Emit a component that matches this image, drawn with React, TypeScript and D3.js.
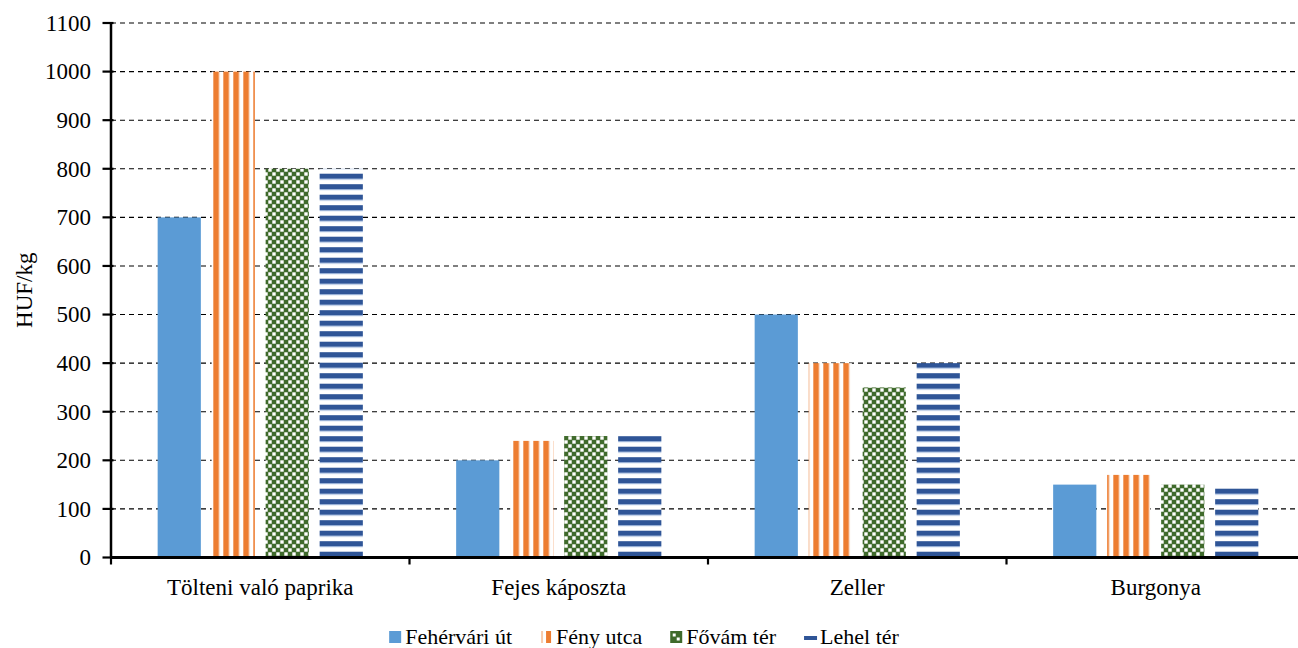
import * as d3 from 'd3';
import { useEffect, useRef } from 'react';

// categories and series
const categories = ['Tölteni való paprika', 'Fejes káposzta', 'Zeller', 'Burgonya'];
const seriesNames = ['Fehérvári út', 'Fény utca', 'Fővám tér', 'Lehel tér'];

// HUF/kg, one value per category
const fehervari = [700, 200, 500, 150];
const fenyUtca = [1000, 240, 400, 170];
const fovam = [800, 250, 350, 150];
const lehel = [800, 250, 400, 147];

const yTicks = [0, 100, 200, 300, 400, 500, 600, 700, 800, 900, 1000, 1100];

const FONT = "Liberation Serif, Times New Roman, serif";

export default function App() {
  const svgRef = useRef<SVGSVGElement>(null);

  useEffect(() => {
    const w = 1298;
    const h = 648;
    const svg = d3.select(svgRef.current);
    svg.selectAll('*').remove();
    svg.attr('width', w).attr('height', h)
      .attr('font-family', FONT);

    const left = 111;
    const right = 111 + 4 * 298.5;
    const top = 23;
    const bottom = 557.5;

    const values = [fehervari, fenyUtca, fovam, lehel];
    const data = categories.flatMap((c, i) =>
      seriesNames.map((s, j) => ({ cat: c, series: s, value: values[j][i] }))
    );

    const x0 = d3.scaleBand().domain(categories).range([left, right]).padding(0);
    const bw = x0.bandwidth();
    const x1 = d3.scaleBand().domain(seriesNames)
      .range([bw / 2 - 108, bw / 2 + 108])
      .paddingInner(0.2).paddingOuter(0.1);
    const y = d3.scaleLinear().domain([0, 1100]).range([bottom, top]);

    // patterns
    const defs = svg.append('defs');
    const pOrange = defs.append('pattern').attr('id', 'pOrange')
      .attr('patternUnits', 'userSpaceOnUse').attr('x', 3.3).attr('y', 0)
      .attr('width', 10).attr('height', 10);
    pOrange.append('rect').attr('width', 10).attr('height', 10).attr('fill', '#fff');
    pOrange.append('rect').attr('x', -0.8).attr('width', 7).attr('height', 10).attr('fill', '#f8cbad');
    pOrange.append('rect').attr('x', 0).attr('width', 5.4).attr('height', 10).attr('fill', '#ed7d31');

    const pGreen = defs.append('pattern').attr('id', 'pGreen')
      .attr('patternUnits', 'userSpaceOnUse').attr('x', 0).attr('y', 0)
      .attr('width', 8).attr('height', 8);
    pGreen.append('rect').attr('width', 8).attr('height', 8).attr('fill', '#3f6a2b');
    pGreen.append('rect').attr('x', 4.3).attr('y', 0.3).attr('width', 3.4).attr('height', 3.4).attr('fill', '#fff');
    pGreen.append('rect').attr('x', 0.3).attr('y', 4.3).attr('width', 3.4).attr('height', 3.4).attr('fill', '#fff');

    const pBlue = defs.append('pattern').attr('id', 'pBlue')
      .attr('patternUnits', 'userSpaceOnUse').attr('x', 0).attr('y', 5.7)
      .attr('width', 10).attr('height', 10.5);
    pBlue.append('rect').attr('width', 10).attr('height', 10.5).attr('fill', '#fff');
    pBlue.append('rect').attr('y', -1).attr('width', 10).attr('height', 7).attr('fill', '#b4c7e7');
    pBlue.append('rect').attr('y', 0).attr('width', 10).attr('height', 5).attr('fill', '#2f5597');

    const fills: Record<string, string> = {
      'Fehérvári út': '#5b9bd5',
      'Fény utca': 'url(#pOrange)',
      'Fővám tér': 'url(#pGreen)',
      'Lehel tér': 'url(#pBlue)',
    };

    // grid lines
    svg.append('g').selectAll('line')
      .data(yTicks.filter(t => t > 0))
      .enter().append('line')
      .attr('x1', left).attr('x2', right)
      .attr('y1', d => y(d)).attr('y2', d => y(d))
      .attr('stroke', '#000').attr('stroke-width', 1.1)
      .attr('stroke-dasharray', '5,4');

    // bars
    svg.append('g').selectAll('rect')
      .data(data)
      .enter().append('rect')
      .attr('x', d => (x0(d.cat) as number) + (x1(d.series) as number))
      .attr('y', d => y(d.value))
      .attr('width', x1.bandwidth())
      .attr('height', d => y(0) - y(d.value))
      .attr('fill', d => fills[d.series]);

    // y axis
    const yAxis = svg.append('g');
    yAxis.append('line')
      .attr('x1', left).attr('x2', left).attr('y1', top).attr('y2', bottom)
      .attr('stroke', '#000').attr('stroke-width', 2.5);
    yAxis.selectAll('line.tick').data(yTicks).enter().append('line')
      .attr('class', 'tick')
      .attr('x1', left - 8.5).attr('x2', left + 2.5)
      .attr('y1', d => y(d)).attr('y2', d => y(d))
      .attr('stroke', '#000').attr('stroke-width', 2.2);
    yAxis.selectAll('text').data(yTicks).enter().append('text')
      .attr('x', 91).attr('y', d => y(d))
      .attr('dy', '0.34em')
      .attr('text-anchor', 'end')
      .attr('font-size', 23)
      .attr('fill', '#000')
      .text(d => d);

    svg.append('text')
      .attr('transform', `translate(32, ${(top + bottom) / 2}) rotate(-90)`)
      .attr('text-anchor', 'middle')
      .attr('font-size', 23)
      .text('HUF/kg');

    // x axis
    const xAxis = svg.append('g');
    xAxis.append('line')
      .attr('x1', left - 1).attr('x2', right).attr('y1', bottom).attr('y2', bottom)
      .attr('stroke', '#000').attr('stroke-width', 2.8);
    const bounds = categories.map(c => x0(c) as number);
    xAxis.selectAll('line.tick').data(bounds).enter().append('line')
      .attr('class', 'tick')
      .attr('x1', d => d).attr('x2', d => d)
      .attr('y1', bottom).attr('y2', bottom + 7)
      .attr('stroke', '#000').attr('stroke-width', 2.2);
    xAxis.selectAll('text').data(categories).enter().append('text')
      .attr('x', d => (x0(d) as number) + bw / 2)
      .attr('y', 595)
      .attr('text-anchor', 'middle')
      .attr('font-size', 23)
      .text(d => d);

    // legend
    const legend = svg.append('g');
    const items = legend.selectAll('g').data(seriesNames).enter().append('g');
    items.append('text')
      .attr('x', 16).attr('y', 644)
      .attr('font-size', 22)
      .text(d => d);
    const widths: number[] = [];
    items.select('text').each(function () {
      widths.push((this as SVGTextElement).getComputedTextLength() + 16);
    });
    const gap = 28;
    const total = d3.sum(widths) + gap * (widths.length - 1);
    let cx = 644 - total / 2;
    items.attr('transform', (_d, i) => {
      const t = `translate(${cx},0)`;
      cx += widths[i] + gap;
      return t;
    });
    items.each(function (d) {
      const g = d3.select(this);
      if (d === 'Fehérvári út') {
        g.append('rect').attr('x', 0).attr('y', 631).attr('width', 12).attr('height', 12).attr('fill', '#5b9bd5');
      } else if (d === 'Fény utca') {
        g.append('rect').attr('x', 1).attr('y', 631).attr('width', 2).attr('height', 12).attr('fill', '#f8cbad');
        g.append('rect').attr('x', 6).attr('y', 631).attr('width', 5).attr('height', 12).attr('fill', '#ed7d31');
      } else if (d === 'Fővám tér') {
        g.append('rect').attr('x', 0).attr('y', 631).attr('width', 12).attr('height', 12).attr('fill', '#3f6a2b');
        g.append('rect').attr('x', 2.5).attr('y', 633.5).attr('width', 3).attr('height', 3).attr('fill', '#fff');
        g.append('rect').attr('x', 6.5).attr('y', 637.5).attr('width', 3).attr('height', 3).attr('fill', '#fff');
      } else {
        g.append('rect').attr('x', 0).attr('y', 636).attr('width', 13).attr('height', 4).attr('fill', '#2f5597');
      }
    });
  }, []);

  return (
    <div style={{ position: 'absolute', left: 0, top: 0 }}>
      <svg ref={svgRef} style={{ display: 'block', background: '#fff' }}></svg>
    </div>
  );
}
